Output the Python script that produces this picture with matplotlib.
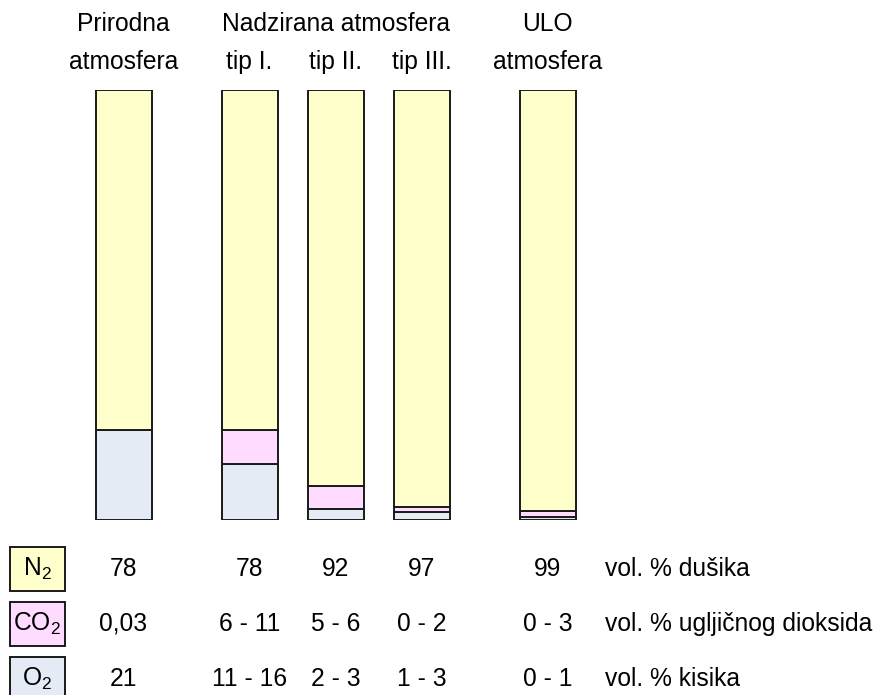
import matplotlib
matplotlib.use("Agg")
import matplotlib.pyplot as plt
from matplotlib.patches import Rectangle

plt.rcParams['font.family'] = ['Liberation Sans', 'DejaVu Sans']
plt.rcParams['mathtext.fontset'] = 'custom'
plt.rcParams['mathtext.rm'] = 'Liberation Sans'
plt.rcParams['mathtext.it'] = 'Liberation Sans'

# data (vol. %)
headers_top = ['Prirodna', 'Nadzirana atmosfera', 'ULO']
headers_bottom = ['atmosfera', 'tip I.', 'tip II.', 'tip III.', 'atmosfera']
o2 = [21, 13, 2.5, 1.9, 0.8]
co2 = [0.03, 7.9, 5.4, 1.2, 1.2]
n2 = [78.97, 79.1, 92.1, 96.9, 98.0]

# table text below the bars
gas_labels = ['N$_2$', 'CO$_2$', 'O$_2$']
n2_text = ['78', '78', '92', '97', '99']
co2_text = ['0,03', '6 - 11', '5 - 6', '0 - 2', '0 - 3']
o2_text = ['21', '11 - 16', '2 - 3', '1 - 3', '0 - 1']
row_desc = ['vol. % dušika', 'vol. % ugljičnog dioksida', 'vol. % kisika']

c_n2 = '#FFFFCC'
c_co2 = '#FFDBFF'
c_o2 = '#E5EBF5'
colors = [c_n2, c_co2, c_o2]

W, H = 875, 695
fig = plt.figure(figsize=(W / 100, H / 100), dpi=100)

# pixel-coordinate overlay for text and legend boxes
ax = fig.add_axes([0, 0, 1, 1])
ax.set_xlim(0, W)
ax.set_ylim(H, 0)
ax.axis('off')

# bar axes, 0..100 %
bar_top, bar_bottom = 90, 520
bax = fig.add_axes([0, (H - bar_bottom) / H, 1, (bar_bottom - bar_top) / H])
bax.set_xlim(0, W)
bax.set_ylim(0, 100)
bax.axis('off')

xs = [123.5, 249.5, 335.5, 422, 547.5]
bw = 56
style = dict(width=bw, edgecolor='#1a1a1a', linewidth=1.4)
bax.bar(xs, o2, color=c_o2, **style)
bax.bar(xs, co2, bottom=o2, color=c_co2, **style)
bax.bar(xs, n2, bottom=[a + b for a, b in zip(o2, co2)], color=c_n2, **style)

fs = 17.7
# headers
ax.text(xs[0], 24, headers_top[0], ha='center', va='center', fontsize=fs)
ax.text(xs[2] + 1, 24, headers_top[1], ha='center', va='center', fontsize=fs)
ax.text(xs[4], 24, headers_top[2], ha='center', va='center', fontsize=fs)
for x, s in zip(xs, headers_bottom):
    ax.text(x, 62, s, ha='center', va='center', fontsize=fs)

# table rows
row_y = [569, 624, 679]
for y, lab, col, vals, desc in zip(row_y, gas_labels, colors,
                                   [n2_text, co2_text, o2_text], row_desc):
    ax.add_patch(Rectangle((9.5, y - 22), 55, 44, facecolor=col,
                           edgecolor='#1a1a1a', linewidth=1.4))
    ax.text(37, y, lab, ha='center', va='center', fontsize=fs)
    for x, s in zip(xs, vals):
        ax.text(x, y, s, ha='center', va='center', fontsize=fs)
    ax.text(605, y, desc, ha='left', va='center', fontsize=fs)

fig.savefig('out.png', dpi=100)
